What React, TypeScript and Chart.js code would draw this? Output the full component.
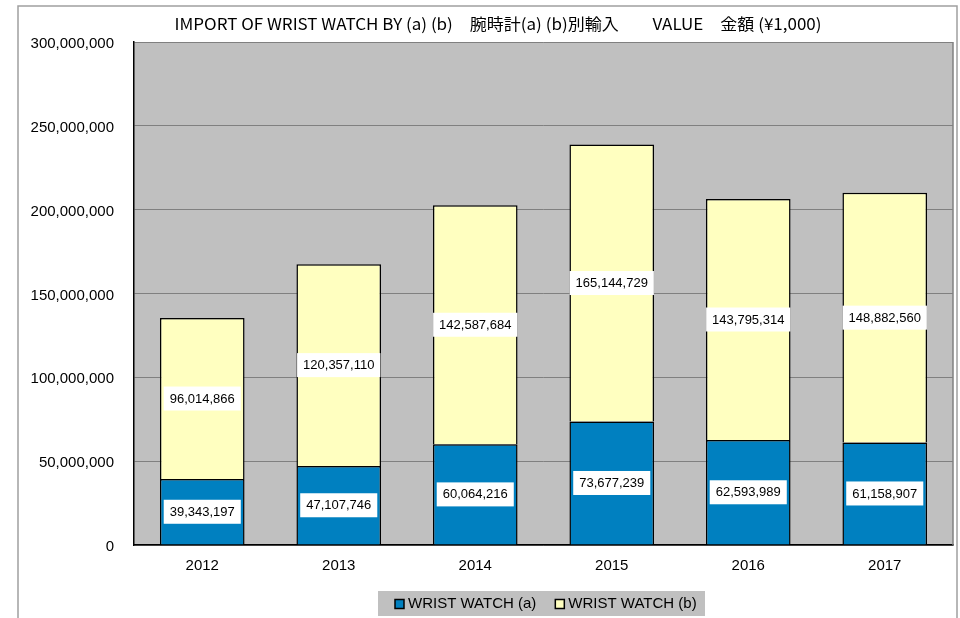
import React, { useEffect, useRef } from "react";
import { Chart, registerables } from "chart.js";

Chart.register(...registerables);

const years = ["2012", "2013", "2014", "2015", "2016", "2017"];
const watchA = [39343197, 47107746, 60064216, 73677239, 62593989, 61158907];
const watchB = [96014866, 120357110, 142587684, 165144729, 143795314, 148882560];
const seriesLabels = ["WRIST WATCH (a)", "WRIST WATCH (b)"];
const chartTitle = "IMPORT OF WRIST WATCH BY (a) (b)\u3000腕時計(a) (b)別輸入\u3000\u3000VALUE\u3000金額 (¥1,000)";
const yMax = 300000000;
const yStep = 50000000;

const fmt = (v: number) => Math.round(v).toLocaleString("en-US");

const W = 960;
const H = 618;

const decorPlugin = {
  id: "decor",
  beforeDraw(chart: any) {
    const { ctx, chartArea: a } = chart;
    ctx.save();
    ctx.fillStyle = "#ffffff";
    ctx.fillRect(0, 0, W, H);
    ctx.strokeStyle = "#a0a0a0";
    ctx.lineWidth = 1.5;
    ctx.beginPath();
    ctx.moveTo(18, H + 2);
    ctx.lineTo(18, 6);
    ctx.lineTo(957, 6);
    ctx.lineTo(957, H + 2);
    ctx.stroke();
    ctx.fillStyle = "#c0c0c0";
    ctx.fillRect(a.left, a.top, a.right - a.left, a.bottom - a.top);
    ctx.restore();
  },
  afterDraw(chart: any) {
    const { ctx, chartArea: a } = chart;
    ctx.save();
    ctx.strokeStyle = "#808080";
    ctx.lineWidth = 1.5;
    ctx.beginPath();
    ctx.moveTo(a.right, a.top);
    ctx.lineTo(a.right, a.bottom);
    ctx.stroke();
    ctx.fillStyle = "#000";
    ctx.font = "16px 'Noto Sans CJK JP', sans-serif";
    ctx.textBaseline = "middle";
    const tw = ctx.measureText(chartTitle).width;
    const sx = 647 / tw;
    ctx.translate(498, 24);
    ctx.scale(sx, 1);
    ctx.textAlign = "center";
    ctx.fillText(chartTitle, 0, 0);
    ctx.restore();

    ctx.save();
    ctx.fillStyle = "#c0c0c0";
    ctx.fillRect(378, 591, 327, 25);
    ctx.font = "15px 'Liberation Sans', Arial, sans-serif";
    ctx.textBaseline = "middle";
    ctx.textAlign = "left";
    const ly = 604;
    let x = 395;
    chart.data.datasets.forEach((ds: any) => {
      ctx.fillStyle = ds.backgroundColor;
      ctx.fillRect(x, ly - 4.5, 9, 9);
      ctx.strokeStyle = "#000";
      ctx.lineWidth = 1.5;
      ctx.strokeRect(x, ly - 4.5, 9, 9);
      ctx.fillStyle = "#000";
      ctx.fillText(ds.label, x + 13, ly);
      x += 13 + ctx.measureText(ds.label).width + 19;
    });
    ctx.restore();
  },
  afterDatasetsDraw(chart: any) {
    const { ctx } = chart;
    ctx.save();
    ctx.font = "13px 'Liberation Sans', Arial, sans-serif";
    ctx.textAlign = "center";
    ctx.textBaseline = "middle";
    chart.data.datasets.forEach((ds: any, di: number) => {
      const meta = chart.getDatasetMeta(di);
      meta.data.forEach((el: any, i: number) => {
        const p = el.getProps(["x", "y", "base"], true);
        const cy = (p.y + p.base) / 2;
        const txt = fmt(ds.data[i]);
        const w = ctx.measureText(txt).width + 12;
        ctx.fillStyle = "#ffffff";
        ctx.fillRect(p.x - w / 2, cy - 12, w, 24);
        ctx.fillStyle = "#000";
        ctx.fillText(txt, p.x, cy + 0.5);
      });
    });
    ctx.restore();
  },
};

export default function App() {
  const ref = useRef<HTMLCanvasElement>(null);
  useEffect(() => {
    if (!ref.current) return;
    const chart = new Chart(ref.current, {
      type: "bar",
      data: {
        labels: years,
        datasets: [
          {
            label: seriesLabels[0],
            data: watchA,
            backgroundColor: "#0080c0",
            borderColor: "#000000",
            borderWidth: 1.5,
          },
          {
            label: seriesLabels[1],
            data: watchB,
            backgroundColor: "#ffffc0",
            borderColor: "#000000",
            borderWidth: 1.5,
          },
        ],
      },
      options: {
        responsive: false,
        animation: false,
        devicePixelRatio: 1,
        layout: { padding: { top: 42, right: 7, bottom: 0, left: 0 } },
        datasets: {
          bar: { barPercentage: 0.62, categoryPercentage: 1 },
        },
        plugins: {
          legend: { display: false },
          title: { display: false },
          tooltip: { enabled: false },
        },
        scales: {
          x: {
            stacked: true,
            grid: { display: false, drawTicks: false },
            border: { display: true, color: "#000000", width: 1.5 },
            ticks: {
              color: "#000",
              padding: 12,
              font: { family: "'Liberation Sans', Arial, sans-serif", size: 15 },
            },
            afterFit: (s: any) => {
              s.height = H - 545;
            },
          },
          y: {
            stacked: true,
            min: 0,
            max: yMax,
            grid: { color: "#808080", lineWidth: 1, drawTicks: false },
            border: { display: true, color: "#000000", width: 1.5 },
            ticks: {
              stepSize: yStep,
              color: "#000",
              padding: 20,
              labelOffset: 2,
              font: { family: "'Liberation Sans', Arial, sans-serif", size: 15 },
              callback: (v: any) => fmt(Number(v)),
            },
            afterFit: (s: any) => {
              s.width = 134;
            },
          },
        },
      },
      plugins: [decorPlugin],
    });
    return () => chart.destroy();
  }, []);
  return (
    <div style={{ position: "fixed", left: 0, top: 0, width: W, height: H, background: "#fff" }}>
      <canvas ref={ref} width={W} height={H} style={{ display: "block", width: W, height: H }} />
    </div>
  );
}
